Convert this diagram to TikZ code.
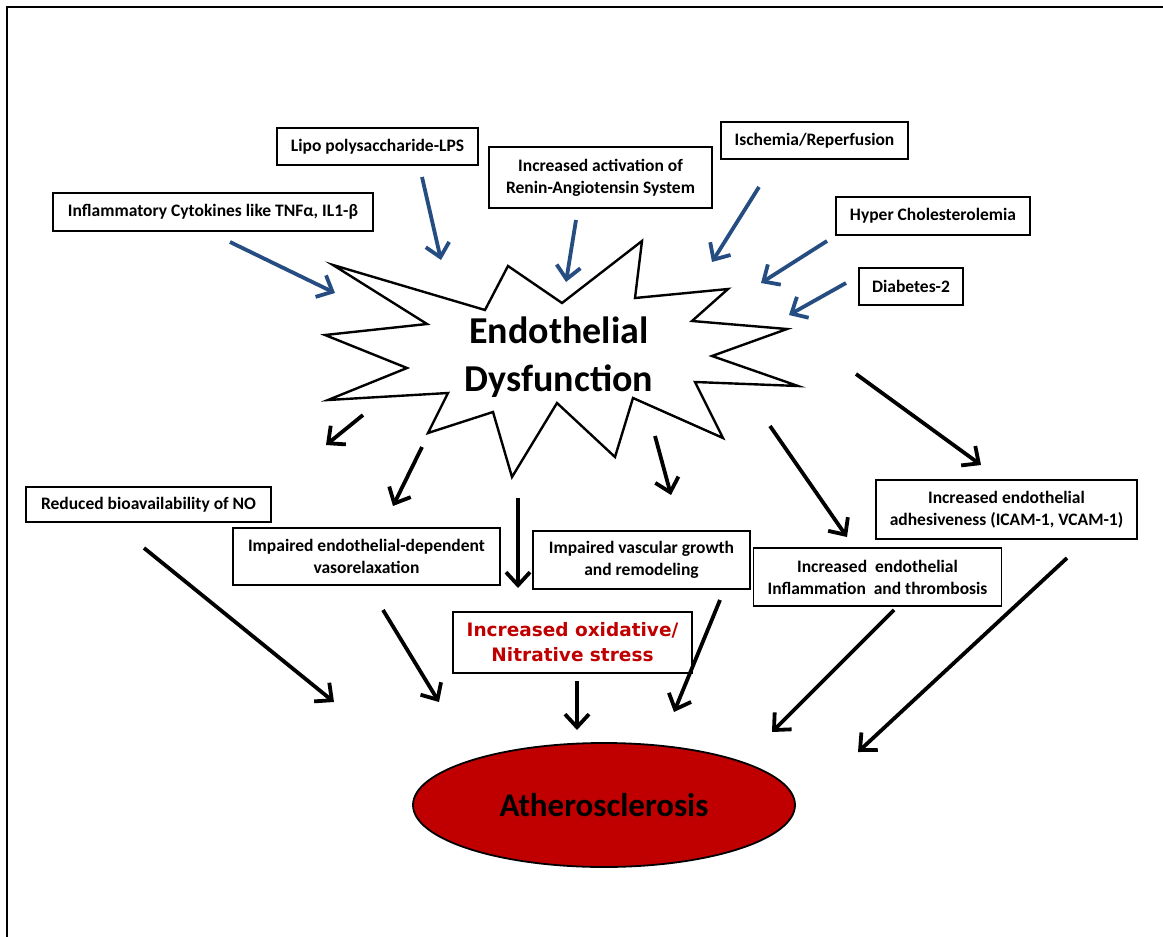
\documentclass[tikz,border=0pt]{standalone}
\usepackage{fontspec}
\setmainfont{Carlito}
\newfontfamily\redfont{DejaVu Sans}
\usetikzlibrary{arrows.meta,shapes.geometric}
\definecolor{arrowblue}{RGB}{37,77,130}
\definecolor{athred}{RGB}{192,0,0}
\definecolor{textred}{RGB}{192,0,0}
\begin{document}
\begin{tikzpicture}[x=1pt,y=-1pt,
  box/.style={draw, line width=1.9pt, inner sep=0pt, align=center,
    font=\bfseries\fontsize{17.5}{22}\selectfont},
  bluearrow/.style={draw=arrowblue, line width=3.8pt,
    -{Straight Barb[length=13pt,width=24pt]}},
  blackarrow/.style={draw=black, line width=3.8pt,
    -{Straight Barb[length=13pt,width=24pt]}},
  starline/.style={draw, line width=2.4pt, line join=miter}]
\useasboundingbox (0,0) rectangle (1163,937);
\fill[white] (0,0) rectangle (1163,937);
% frame
\draw[line width=1.6pt] (7,937) -- (7,7) -- (1163,7);

% starburst
\draw[starline] (333,265) -- (485,310) -- (508,266) -- (562,303) -- (642,241)
  -- (635,298) -- (728,289) -- (692,321) -- (787,329) -- (712,356) -- (798,386)
  -- (695,382) -- (723,438) -- (633,398) -- (615,457) -- (557,403) -- (512,477)
  -- (493,412) -- (428,433) -- (448,393) -- (328,400) -- (407,368) -- (325,335)
  -- (427,324) -- cycle;
\node[font=\bfseries\fontsize{38}{48}\selectfont, align=center] (ed) at (559,357)
  {Endothelial\\Dysfunction};

% cause boxes
\node[box, minimum width=201pt, minimum height=37pt] (lps) at (377.5,146.5) {Lipo polysaccharide-LPS};
\node[box, minimum width=223pt, minimum height=61pt] (ras) at (600.5,177.5) {Increased activation of\\Renin-Angiotensin System};
\node[box, minimum width=320pt, minimum height=38pt] (cyt) at (213,212) {Inflammatory Cytokines like TNFα, IL1-β};
\node[box, minimum width=187pt, minimum height=37pt] (isc) at (814.5,140.5) {Ischemia/Reperfusion};
\node[box, minimum width=194pt, minimum height=38pt] (hyp) at (933,216) {Hyper Cholesterolemia};
\node[box, minimum width=104pt, minimum height=37pt] (dia) at (911,286.5) {Diabetes-2};

% effect boxes
\node[box, minimum width=245pt, minimum height=35pt] (no) at (148.5,504.5) {Reduced bioavailability of NO};
\node[box, minimum width=267pt, minimum height=57pt] (vaso) at (366.5,556.5) {Impaired endothelial-dependent\\vasorelaxation};
\node[box, minimum width=217pt, minimum height=58pt] (grow) at (641.5,560) {Impaired vascular growth\\and remodeling};
\node[box, minimum width=248pt, minimum height=58pt] (infl) at (877.5,577) {Increased\ \ endothelial\\Inflammation\ \ and thrombosis};
\node[box, minimum width=261pt, minimum height=59pt] (adh) at (1006.5,509.5) {Increased endothelial\\adhesiveness (ICAM-1, VCAM-1)};
\node[box, minimum width=239pt, minimum height=61pt, text=textred,
  font=\redfont\bfseries\fontsize{18.5}{25}\selectfont] (ox) at (572.5,642.5) {Increased oxidative/\\Nitrative stress};

% atherosclerosis
\node[ellipse, draw, line width=1.8pt, fill=athred, minimum width=382pt, minimum height=124pt,
  inner sep=0pt, font=\bfseries\fontsize{33}{40}\selectfont] (ath) at (604,805) {Atherosclerosis};

% arrow end coordinates: blue
\coordinate (cytS) at (230,242); \coordinate (cytE) at (335,293);
\coordinate (lpsS) at (422,177); \coordinate (lpsE) at (441,260);
\coordinate (rasS) at (576,220); \coordinate (rasE) at (566,282);
\coordinate (iscS) at (759,187); \coordinate (iscE) at (712,262);
\coordinate (hypS) at (827,241); \coordinate (hypE) at (761,283);
\coordinate (diaS) at (846,283); \coordinate (diaE) at (789,315);
\draw[bluearrow] (cytS) -- (cytE);
\draw[bluearrow] (lpsS) -- (lpsE);
\draw[bluearrow] (rasS) -- (rasE);
\draw[bluearrow] (iscS) -- (iscE);
\draw[bluearrow] (hypS) -- (hypE);
\draw[bluearrow] (diaS) -- (diaE);

% black arrows out of the starburst
\coordinate (o1S) at (363,415); \coordinate (o1E) at (326,445);
\coordinate (o2S) at (422,447); \coordinate (o2E) at (393,506);
\coordinate (o3S) at (518,498); \coordinate (o3E) at (518,588);
\coordinate (o4S) at (655,436); \coordinate (o4E) at (671,495);
\coordinate (o5S) at (770,426); \coordinate (o5E) at (847,537);
\coordinate (o6S) at (856,374); \coordinate (o6E) at (981,465);
\draw[blackarrow] (o1S) -- (o1E);
\draw[blackarrow] (o2S) -- (o2E);
\draw[blackarrow] (o3S) -- (o3E);
\draw[blackarrow] (o4S) -- (o4E);
\draw[blackarrow] (o5S) -- (o5E);
\draw[blackarrow] (o6S) -- (o6E);

% black arrows toward atherosclerosis
\coordinate (a1S) at (144,548); \coordinate (a1E) at (334,702);
\coordinate (a2S) at (383,610); \coordinate (a2E) at (439,702);
\coordinate (a3S) at (577,681); \coordinate (a3E) at (577,730);
\coordinate (a4S) at (720,600); \coordinate (a4E) at (674,712);
\coordinate (a5S) at (894,610); \coordinate (a5E) at (772,732);
\coordinate (a6S) at (1067,558); \coordinate (a6E) at (858,752);
\draw[blackarrow] (a1S) -- (a1E);
\draw[blackarrow] (a2S) -- (a2E);
\draw[blackarrow] (a3S) -- (a3E);
\draw[blackarrow] (a4S) -- (a4E);
\draw[blackarrow] (a5S) -- (a5E);
\draw[blackarrow] (a6S) -- (a6E);
\end{tikzpicture}
\end{document}
